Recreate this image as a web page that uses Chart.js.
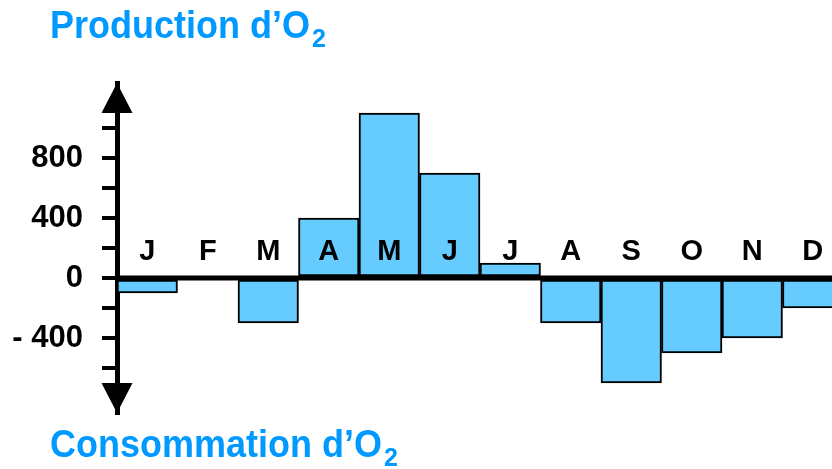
<!DOCTYPE html>
<html>
<head>
<meta charset="utf-8">
<script src="https://cdn.jsdelivr.net/npm/chart.js@4"></script>
<style>
  html, body { margin: 0; padding: 0; overflow: hidden; background: #fff; }
  #wrap { position: relative; width: 843px; height: 469px; }
  .lbl { position: absolute; left: 50px; font: bold 36px/36px "Liberation Sans", Arial, sans-serif; color: #0099ff; white-space: nowrap; transform: scaleY(1.06); transform-origin: 0 0; }
  .lbl sub { font-size: 25px; vertical-align: -9px; line-height: 0; margin-left: 2px; }
  #top { top: 6px; }
  #bottom { top: 425px; }
</style>
</head>
<body>
<div id="wrap">
  <canvas id="o2Chart"></canvas>
  <div class="lbl" id="top">Production d’O<sub>2</sub></div>
  <div class="lbl" id="bottom">Consommation d’O<sub>2</sub></div>
</div>
<script>
var months = ["J", "F", "M", "A", "M", "J", "J", "A", "S", "O", "N", "D"];
var o2Values = [-100, 0, -300, 400, 1100, 700, 100, -300, -700, -500, -400, -200];
var yTicks = [-600, -400, -200, 0, 200, 400, 600, 800, 1000];
var yLabels = { "800": "800", "400": "400", "0": "0", "-400": "- 400" };

var FONT = '"Liberation Sans", Arial, sans-serif';

// arrows on the y axis, zero line on top of the bars, month letters
var axisDecor = {
    id: 'axisDecor',
    afterDatasetsDraw: function(chart) {
        var ctx = chart.ctx;
        var area = chart.chartArea;
        var y = chart.scales.y;
        var x = chart.scales.x;
        var zero = y.getPixelForValue(0);
        var ax = area.left;

        ctx.save();
        ctx.fillStyle = '#000';
        ctx.strokeStyle = '#000';

        ctx.lineWidth = 5;
        ctx.beginPath();
        ctx.moveTo(ax, zero);
        ctx.lineTo(chart.width, zero);
        ctx.stroke();

        ctx.beginPath();
        ctx.moveTo(ax, area.top);
        ctx.lineTo(ax - 15.5, area.top + 30);
        ctx.lineTo(ax + 15.5, area.top + 30);
        ctx.closePath();
        ctx.fill();

        ctx.beginPath();
        ctx.moveTo(ax, area.bottom);
        ctx.lineTo(ax - 15.5, area.bottom - 30);
        ctx.lineTo(ax + 15.5, area.bottom - 30);
        ctx.closePath();
        ctx.fill();

        ctx.font = 'bold 29px ' + FONT;
        ctx.textAlign = 'center';
        ctx.textBaseline = 'middle';
        for (var i = 0; i < months.length; i++) {
            ctx.fillText(months[i], x.getPixelForValue(i), zero - 26);
        }
        ctx.restore();
    }
};

var ctxO2 = document.getElementById("o2Chart");

var o2Chart = new Chart(ctxO2, {
    type: 'bar',
    data: {
        labels: months,
        datasets: [
            {
                data: o2Values,
                backgroundColor: "#66ccff",
                borderColor: "#000",
                borderWidth: 2,
                borderSkipped: false,
                barPercentage: 1,
                categoryPercentage: 1
            }
        ]
    },
    options: {
        responsive: true,
        maintainAspectRatio: false,
        animation: false,
        layout: { padding: { top: 83, bottom: 56, left: 0, right: 0 } },
        plugins: {
            legend: { display: false },
            tooltip: { enabled: false }
        },
        scales: {
            x: {
                display: false
            },
            y: {
                min: -900,
                max: 1300,
                afterFit: function(scale) { scale.width = 117; },
                afterBuildTicks: function(scale) {
                    scale.ticks = yTicks.map(function(v) { return { value: v }; });
                },
                border: { display: true, color: '#000', width: 5 },
                grid: {
                    drawOnChartArea: false,
                    drawTicks: true,
                    tickLength: 15,
                    tickWidth: 4,
                    tickColor: '#000',
                    lineWidth: 4
                },
                ticks: {
                    padding: 19,
                    color: '#000',
                    font: { family: FONT, size: 31, weight: 'bold' },
                    callback: function(value) {
                        return yLabels[String(value)] || '';
                    }
                }
            }
        }
    },
    plugins: [axisDecor]
});
</script>
</body>
</html>
